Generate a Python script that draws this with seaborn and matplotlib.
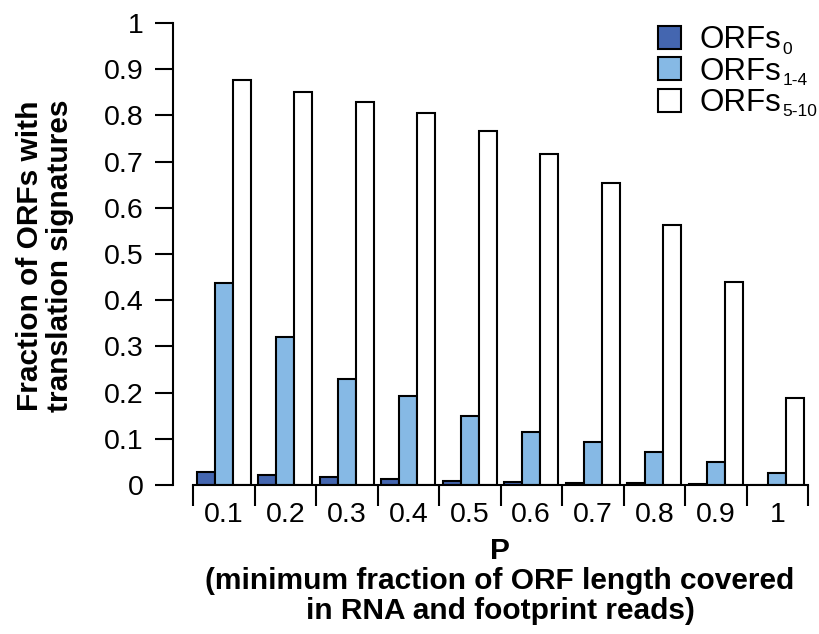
import matplotlib
matplotlib.use("Agg")
import matplotlib.pyplot as plt
import seaborn as sns
import pandas as pd

p_values = ["0.1", "0.2", "0.3", "0.4", "0.5", "0.6", "0.7", "0.8", "0.9", "1"]
orfs_0 = [0.029, 0.022, 0.017, 0.012, 0.009, 0.0065, 0.005, 0.0035, 0.002, 0.001]
orfs_1_4 = [0.437, 0.320, 0.229, 0.193, 0.150, 0.114, 0.094, 0.072, 0.050, 0.025]
orfs_5_10 = [0.877, 0.851, 0.829, 0.805, 0.766, 0.716, 0.654, 0.563, 0.439, 0.188]
series_names = ["ORFs0", "ORFs1-4", "ORFs5-10"]
series_subscripts = ["0", "1-4", "5-10"]
colors = ["#4466b0", "#86b9e5", "#ffffff"]
y_ticks = [0, 0.1, 0.2, 0.3, 0.4, 0.5, 0.6, 0.7, 0.8, 0.9, 1]
y_tick_labels = ["0", "0.1", "0.2", "0.3", "0.4", "0.5", "0.6", "0.7", "0.8", "0.9", "1"]

rows = []
for name, vals in zip(series_names, [orfs_0, orfs_1_4, orfs_5_10]):
    for p, v in zip(p_values, vals):
        rows.append({"P": p, "series": name, "value": v})
df = pd.DataFrame(rows)

sns.set_style("ticks")
plt.rcParams["font.family"] = ["Liberation Sans", "DejaVu Sans"]
for k in ["text.color", "axes.labelcolor", "xtick.color", "ytick.color", "axes.edgecolor"]:
    plt.rcParams[k] = "black"

fig = plt.figure(figsize=(8.19, 6.34), dpi=100)
ax = fig.add_axes([193 / 819, (634 - 485) / 634, 615 / 819, 462 / 634])

sns.barplot(data=df, x="P", y="value", hue="series", order=p_values,
            hue_order=series_names, palette=colors, width=0.87, gap=0,
            edgecolor="black", linewidth=1.5, saturation=1, ax=ax,
            errorbar=None)

ax.set_xlim(-0.5, len(p_values) - 0.5)
ax.set_ylim(0, 1)
ax.set_xlabel("")
ax.set_ylabel("")

for s in ["top", "right"]:
    ax.spines[s].set_visible(False)
ax.spines["left"].set_position(("outward", 14.4))
ax.spines["left"].set_bounds(0, 1)
ax.spines["left"].set_linewidth(1.5)
ax.spines["bottom"].set_linewidth(1.5)
ax.spines["bottom"].set_bounds(-0.5, len(p_values) - 0.5)

ax.set_yticks(y_ticks)
ax.set_yticklabels(y_tick_labels)
ax.tick_params(axis="y", length=13, width=1.5, pad=8, labelsize=20.5, colors="black")

ax.set_xticks(range(len(p_values)))
ax.set_xticklabels(p_values)
ax.set_xticks([i - 0.5 for i in range(len(p_values) + 1)], minor=True)
ax.tick_params(axis="x", which="major", length=0, pad=12, labelsize=20.5, colors="black")
ax.tick_params(axis="x", which="minor", length=15, width=1.5, colors="black")

handles, _ = ax.get_legend_handles_labels()
leg = ax.legend(handles, ["ORFs"] * len(handles), loc="upper left",
                bbox_to_anchor=(645 / 819, 1 - 13 / 634),
                bbox_transform=fig.transFigure, frameon=False, fontsize=22.5,
                handlelength=0.75, handleheight=0.75, handletextpad=0.6,
                labelspacing=0.04, borderaxespad=0)
for t in leg.get_texts():
    t.set_color("black")

fig.text(45 / 819, 1 - 256 / 634, "Fraction of ORFs with\ntranslation signatures",
         rotation=90, ha="center", va="center", fontsize=21.5, fontweight="bold",
         linespacing=1.1, color="black")
fig.text(500 / 819, 1 - 581 / 634,
         "P\n(minimum fraction of ORF length covered\nin RNA and footprint reads)",
         ha="center", va="center", fontsize=21.5, fontweight="bold", linespacing=1.08,
         color="black")

# subscripts of the legend labels, placed after layout
fig.canvas.draw()
renderer = fig.canvas.get_renderer()
for t, sub in zip(leg.get_texts(), series_subscripts):
    bb = t.get_window_extent(renderer)
    x0, y0 = fig.transFigure.inverted().transform((bb.x1 + 1, bb.y0 - 1))
    fig.text(x0, y0, sub, fontsize=12.5, ha="left", va="bottom", color="black")

fig.savefig("out.png", dpi=100)
